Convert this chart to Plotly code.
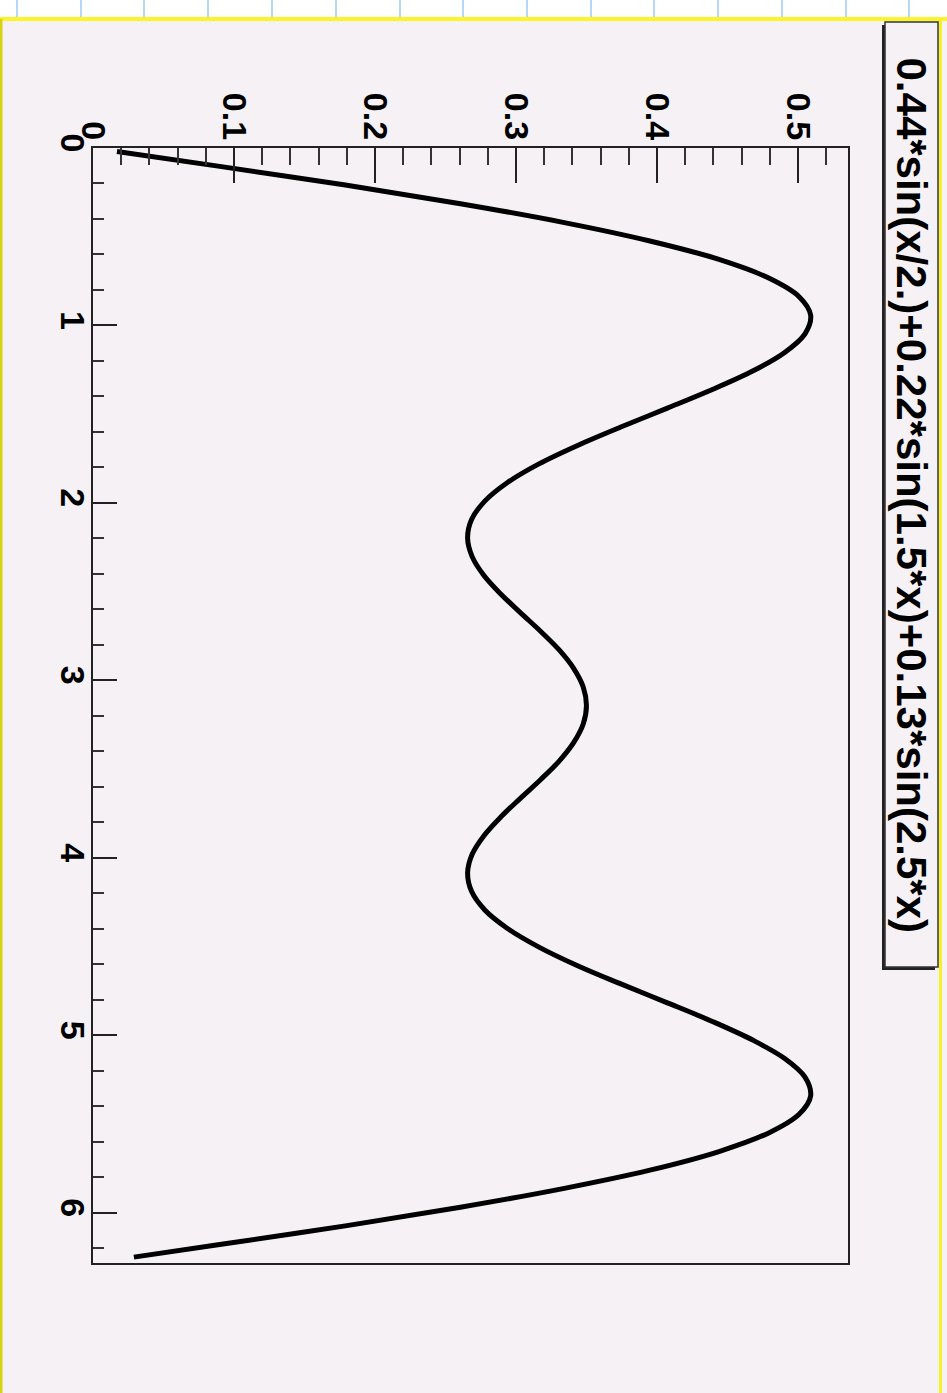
import plotly.graph_objects as go

# Curve: position along the (vertical) x axis and function value
x_pos = [0.02, 0.105, 0.209, 0.314, 0.419, 0.524, 0.628, 0.733, 0.838, 0.942,
         1.047, 1.152, 1.257, 1.361, 1.466, 1.571, 1.676, 1.780, 1.885, 1.990,
         2.094, 2.199, 2.304, 2.409, 2.513, 2.618, 2.723, 2.827, 2.932, 3.037,
         3.142, 3.246, 3.351, 3.456, 3.560, 3.665, 3.770, 3.875, 3.979, 4.084,
         4.189, 4.294, 4.398, 4.503, 4.608, 4.712, 4.817, 4.922, 5.027, 5.131,
         5.236, 5.341, 5.445, 5.550, 5.655, 5.760, 5.864, 5.969, 6.074, 6.178,
         6.25]
f_val = [0.0170, 0.0911, 0.1790, 0.2606, 0.3334, 0.3950, 0.4440, 0.4793, 0.5008, 0.5090,
         0.5050, 0.4906, 0.4679, 0.4393, 0.4074, 0.3748, 0.3437, 0.3163, 0.2940, 0.2779,
         0.2685, 0.2657, 0.2690, 0.2773, 0.2892, 0.3031, 0.3174, 0.3305, 0.3409, 0.3477,
         0.3500, 0.3477, 0.3409, 0.3305, 0.3174, 0.3031, 0.2892, 0.2773, 0.2690, 0.2657,
         0.2685, 0.2779, 0.2940, 0.3163, 0.3437, 0.3748, 0.4074, 0.4393, 0.4679, 0.4906,
         0.5050, 0.5090, 0.5008, 0.4793, 0.4440, 0.3950, 0.3334, 0.2606, 0.1790, 0.0911,
         0.0290]

x_ticks = [0, 1, 2, 3, 4, 5, 6]
x_ticklabels = ["0", "1", "2", "3", "4", "5", "6"]
f_ticks = [0, 0.1, 0.2, 0.3, 0.4, 0.5]
f_ticklabels = ["0", "0.1", "0.2", "0.3", "0.4", "0.5"]
title_text = "0.44*sin(x/2.)+0.22*sin(1.5*x)+0.13*sin(2.5*x)"

W, H = 947, 1393
BG = "rgb(245,241,245)"
FONT = "Liberation Sans"


def px(x):
    return x / W


def py(y):
    return 1 - y / H


fig = go.Figure()
fig.add_trace(go.Scatter(
    x=f_val, y=x_pos, mode="lines",
    line=dict(color="black", width=5, shape="spline", smoothing=1.0),
    hoverinfo="skip", showlegend=False,
))

frame_l, frame_r, frame_t, frame_b = 93, 848, 148, 1263

fig.update_layout(
    width=W, height=H,
    margin=dict(l=0, r=0, t=0, b=0, pad=0, autoexpand=False),
    paper_bgcolor=BG, plot_bgcolor=BG,
    showlegend=False,
    xaxis=dict(
        domain=[px(frame_l), px(frame_r)],
        range=[0, 0.5355], side="top", automargin=False,
        tickvals=f_ticks, ticktext=f_ticklabels, tickangle=90,
        ticks="inside", ticklen=35, tickwidth=2, tickcolor="#222",
        minor=dict(dtick=0.02, tick0=0, ticks="inside", ticklen=17,
                   tickwidth=2, tickcolor="#333", showgrid=False),
        tickfont=dict(family=FONT, size=34, color="black", weight="bold"),
        ticklabelstandoff=-6,
        showline=True, linecolor="#222", linewidth=2, mirror=True,
        showgrid=False, zeroline=False, anchor="y",
    ),
    yaxis=dict(
        domain=[py(frame_b), py(frame_t)],
        range=[6.2832, 0], automargin=False,
        tickvals=x_ticks, ticktext=x_ticklabels, tickangle=90,
        ticks="inside", ticklen=24, tickwidth=2, tickcolor="#222",
        minor=dict(dtick=0.2, tick0=0, ticks="inside", ticklen=11,
                   tickwidth=2, tickcolor="#333", showgrid=False),
        tickfont=dict(family=FONT, size=34, color="black", weight="bold"),
        ticklabelstandoff=-11,
        showline=True, linecolor="#222", linewidth=2, mirror=True,
        showgrid=False, zeroline=False, anchor="x",
    ),
)

shapes = []
# top strip with light blue lines
shapes.append(dict(type="rect", xref="paper", yref="paper", x0=0, x1=1,
                   y0=py(17), y1=1, fillcolor="white", line=dict(width=0),
                   layer="below"))
for gx in [17, 81, 144, 208, 272, 336, 400, 463, 527, 591, 654, 718, 782, 846, 909]:
    shapes.append(dict(type="line", xref="paper", yref="paper",
                       x0=px(gx), x1=px(gx), y0=py(17), y1=1,
                       line=dict(color="rgb(160,200,245)", width=1.5), layer="below"))
# yellow border
shapes.append(dict(type="line", xref="paper", yref="paper", x0=0, x1=1,
                   y0=py(19), y1=py(19), line=dict(color="rgb(250,245,40)", width=4),
                   layer="below"))
shapes.append(dict(type="line", xref="paper", yref="paper", x0=px(1), x1=px(1),
                   y0=0, y1=py(19), line=dict(color="rgb(215,210,20)", width=3),
                   layer="below"))
shapes.append(dict(type="line", xref="paper", yref="paper", x0=px(940.5), x1=px(940.5),
                   y0=0, y1=py(19), line=dict(color="rgb(245,240,40)", width=3),
                   layer="below"))
# title box shadow and box
shapes.append(dict(type="rect", xref="paper", yref="paper",
                   x0=px(882), x1=px(935), y0=py(970), y1=py(25),
                   fillcolor="#222", line=dict(width=0)))
shapes.append(dict(type="rect", xref="paper", yref="paper",
                   x0=px(885), x1=px(938), y0=py(967), y1=py(22),
                   fillcolor=BG, line=dict(color="#333", width=1.5)))
fig.update_layout(shapes=shapes)

fig.add_annotation(
    x=px(911.5), y=py(495), xref="paper", yref="paper",
    text=title_text, showarrow=False, textangle=90,
    xanchor="center", yanchor="middle",
    font=dict(family=FONT, size=42, color="black", weight="bold"),
)

fig.write_html(
    "out.html",
    config={"displayModeBar": False},
    post_script="document.body.style.margin='0';document.body.style.padding='0';"
                "document.body.style.overflow='hidden';",
)
